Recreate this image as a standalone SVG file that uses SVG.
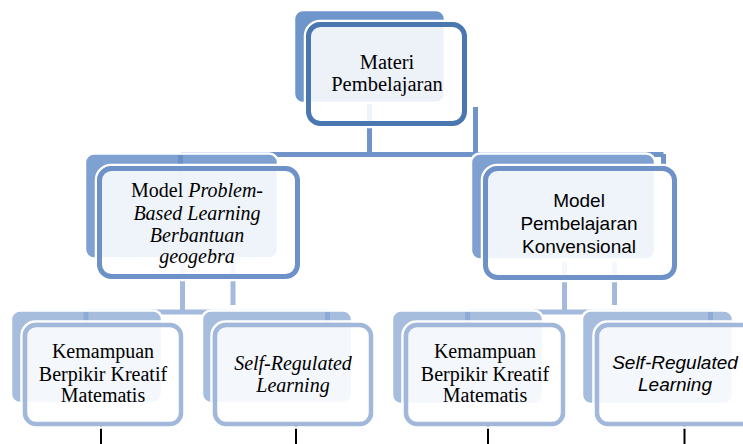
<svg xmlns="http://www.w3.org/2000/svg" width="743" height="444" viewBox="0 0 743 444">
<style>
.bk{stroke:#fff;stroke-width:2.5}
.fr{fill:#fff;fill-opacity:0.88}
.halo{fill:none;stroke:#fff;stroke-width:2.5}
.serif{font-family:"Liberation Serif","Times New Roman",serif;font-size:20px;fill:#000;text-anchor:middle}
.sans{font-family:"Liberation Sans",Arial,sans-serif;font-size:19px;fill:#000;text-anchor:middle}
.c1{stroke:#7094c9;stroke-width:5;fill:none}
.c2{stroke:#a4badd;stroke-width:5;fill:none}
.blk{stroke:#000;stroke-width:2}
</style>
<rect width="743" height="444" fill="#fff"/>
<g id="connectors">
<path class="c1" d="M369.5 103V154.5M475.5 107V154.5M180.5 154.5H663.5M663.5 154V168"/>
<path class="c2" d="M182.5 262V312M233 262V305M86 312H328M564.5 262V312M614.5 262V305M468 312H711"/>
<path class="blk" d="M101 424V444M296 424V444M488 424V444M684.5 424V444"/>
</g>
<g id="n-top">
<rect class="bk" x="294" y="10" width="151" height="93" rx="9" fill="#6e96cb"/>
<rect class="halo" x="305" y="21" width="163" height="106" rx="15"/>
<rect class="fr" x="308.5" y="24.5" width="156" height="99" rx="12" stroke="#4a77b0" stroke-width="5" />
<text class="serif" style="font-size:20.5px" x="387" y="69">Materi</text>
<text class="serif" style="font-size:20.5px" x="387" y="91">Pembelajaran</text>
</g>
<g id="n-pbl">
<rect class="bk" x="85" y="153.5" width="193" height="105" rx="9" fill="#7ea1d1"/>
<path d="M180.5 155V185" stroke="#6b8fc7" stroke-width="5"/>
<rect class="halo" x="96" y="165" width="205" height="115" rx="15"/>
<rect class="fr" x="99.5" y="168.5" width="198" height="108" rx="12" stroke="#6e92c8" stroke-width="5"/>
<text class="serif" x="197" y="197">Model <tspan font-style="italic">Problem-</tspan></text>
<text class="serif" font-style="italic" x="197" y="220">Based Learning</text>
<text class="serif" font-style="italic" x="197" y="242">Berbantuan</text>
<text class="serif" font-style="italic" x="197" y="263">geogebra</text>
</g>
<g id="n-konv">
<rect class="bk" x="471" y="153.5" width="184" height="106" rx="9" fill="#7ea1d1"/>
<rect class="halo" x="482" y="165" width="196" height="116" rx="15"/>
<rect class="fr" x="485.5" y="168.5" width="189" height="109" rx="12" stroke="#6e92c8" stroke-width="5"/>
<text class="sans" x="579" y="207">Model</text>
<text class="sans" x="579" y="230">Pembelajaran</text>
<text class="sans" x="579" y="253">Konvensional</text>
</g>
<g id="n-kbk1">
<rect class="bk" x="11" y="310.5" width="151" height="92.5" rx="9" fill="#a6bdde"/>
<path d="M86 312V325" stroke="#8eaad6" stroke-width="5"/>
<rect class="halo" x="21.5" y="321.5" width="163" height="106" rx="14"/>
<rect class="fr" x="25" y="325" width="156" height="99" rx="11" stroke="#a2b8db" stroke-width="4.5"/>
<text class="serif" x="103" y="358">Kemampuan</text>
<text class="serif" x="103" y="381">Berpikir Kreatif</text>
<text class="serif" x="103" y="402">Matematis</text>
</g>
<g id="n-srl1">
<rect class="bk" x="202" y="310.5" width="150" height="92.5" rx="9" fill="#a6bdde"/>
<path d="M327.5 312V325" stroke="#8eaad6" stroke-width="5"/>
<rect class="halo" x="211.5" y="321.5" width="163" height="106" rx="14"/>
<rect class="fr" x="215" y="325" width="156" height="99" rx="11" stroke="#a2b8db" stroke-width="4.5"/>
<text class="serif" font-style="italic" x="293" y="370">Self-Regulated</text>
<text class="serif" font-style="italic" x="293" y="392">Learning</text>
</g>
<g id="n-kbk2">
<rect class="bk" x="392" y="310.5" width="151" height="93.5" rx="9" fill="#a6bdde"/>
<path d="M467.5 312V325" stroke="#8eaad6" stroke-width="5"/>
<rect class="halo" x="402.5" y="321.5" width="164" height="106" rx="14"/>
<rect class="fr" x="406" y="325" width="157" height="99" rx="11" stroke="#a2b8db" stroke-width="4.5"/>
<text class="serif" x="485" y="358">Kemampuan</text>
<text class="serif" x="485" y="381">Berpikir Kreatif</text>
<text class="serif" x="485" y="402">Matematis</text>
</g>
<g id="n-srl2">
<rect class="bk" x="582" y="310.5" width="151" height="93.5" rx="9" fill="#a6bdde"/>
<path d="M710.5 312V325" stroke="#8eaad6" stroke-width="5"/>
<rect class="halo" x="593.5" y="321.5" width="164" height="106" rx="14"/>
<rect class="fr" x="597" y="325" width="157" height="99" rx="11" stroke="#a2b8db" stroke-width="4.5"/>
<text class="sans" font-style="italic" x="675" y="369">Self-Regulated</text>
<text class="sans" font-style="italic" x="675" y="391">Learning</text>
</g>
</svg>
